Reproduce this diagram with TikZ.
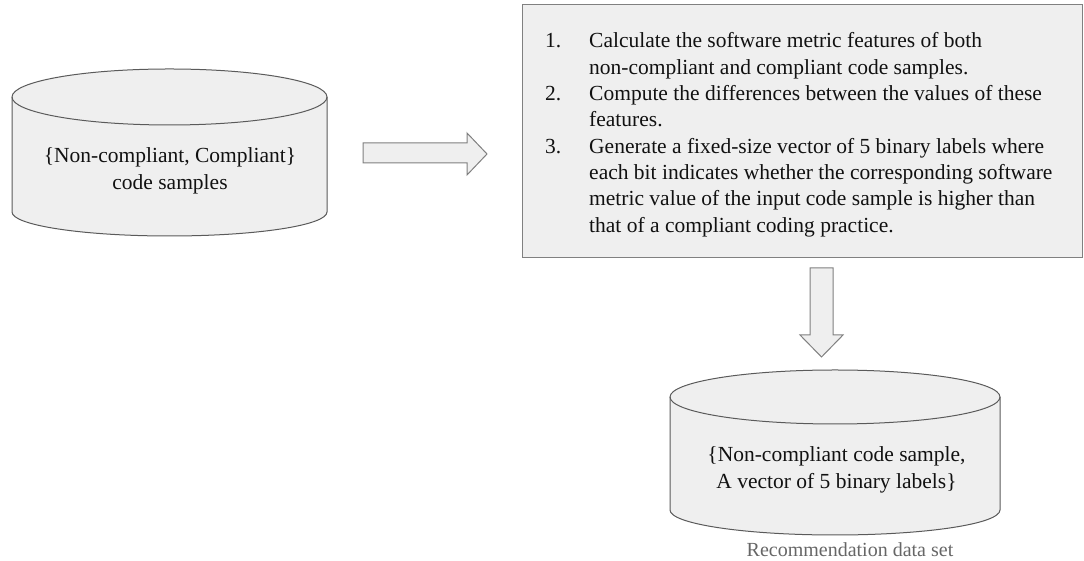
\documentclass[tikz,border=0pt]{standalone}
\usepackage{fontspec}
\setmainfont{Liberation Serif}
\definecolor{shade}{HTML}{EFEFEF}
\definecolor{edge}{HTML}{808080}
\definecolor{drumedge}{HTML}{5A5A5A}
\definecolor{ink}{HTML}{111111}
\definecolor{caption}{HTML}{666666}
\begin{document}
\begin{tikzpicture}[x=1pt,y=1pt,
  panel/.style={fill=shade, draw=edge, line width=1pt},
  drum/.style={fill=shade, draw=drumedge, line width=1pt},
  drumrim/.style={draw=drumedge, line width=1pt},
  blockarrow/.style={fill=shade, draw=edge, line width=1pt, line join=miter},
  body/.style={font=\fontsize{21.5}{26.3}\selectfont, text=ink, inner sep=0pt},
  note/.style={font=\fontsize{20}{24}\selectfont, text=caption, inner sep=0pt},
]
\useasboundingbox (0,0) rectangle (1084,561);

% input data store
\path[drum] (12,464) -- (12,349)
  arc[start angle=180, end angle=360, x radius=157.5, y radius=24]
  -- (327,464)
  arc[start angle=0, end angle=180, x radius=157.5, y radius=28] -- cycle;
\draw[drumrim] (12,464) arc[start angle=180, end angle=360, x radius=157.5, y radius=28];
\node[body, anchor=base] (src) at (170,398)
  {\begin{tabular}[t]{@{}c@{}}\{Non-compliant, Compliant\}\\ code samples\end{tabular}};

% processing steps
\node[panel, minimum width=560, minimum height=253, inner sep=0pt] (procbox) at (802,429.5) {};
\node[body, anchor=base west] (steps) at (545,513)
  {\begin{tabular}[t]{@{}p{44pt}@{}l@{}}
   1. & Calculate the software metric features of both\\
      & non-compliant and compliant code samples.\\
   2. & Compute the differences between the values of these\\
      & features.\\
   3. & Generate a fixed-size vector of 5 binary labels where\\
      & each bit indicates whether the corresponding software\\
      & metric value of the input code sample is higher than\\
      & that of a compliant coding practice.
   \end{tabular}};

% block arrows
\path[blockarrow] (363,418) -- (467,418) -- (467,428) -- (487,407)
  -- (467,386) -- (467,398) -- (363,398) -- cycle;
\path[blockarrow] (810,293) -- (810,226) -- (800,226) -- (821.5,204)
  -- (843,226) -- (833,226) -- (833,293) -- cycle;

% output data store
\path[drum] (670,164) -- (670,51)
  arc[start angle=180, end angle=360, x radius=165, y radius=25]
  -- (1000,164)
  arc[start angle=0, end angle=180, x radius=165, y radius=27] -- cycle;
\draw[drumrim] (670,164) arc[start angle=180, end angle=360, x radius=165, y radius=27];
\node[body, anchor=base] (out) at (836.5,99)
  {\begin{tabular}[t]{@{}c@{}}\{Non-compliant code sample,\\ A vector of 5 binary labels\}\end{tabular}};
\node[note, anchor=base] (outlabel) at (850,4) {Recommendation data set};
\end{tikzpicture}
\end{document}
